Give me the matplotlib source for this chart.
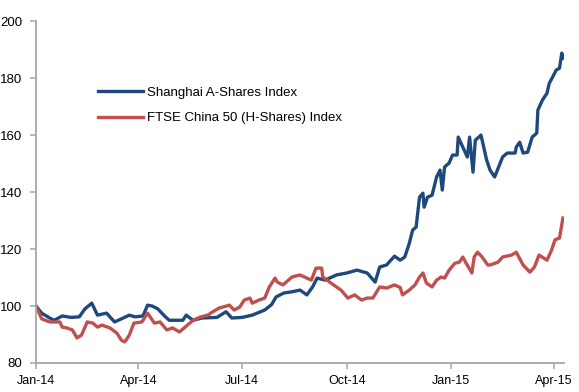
import matplotlib
matplotlib.use("Agg")
import matplotlib.pyplot as plt
import pandas as pd

plt.rcParams["font.family"] = ["Liberation Sans", "DejaVu Sans"]

# Shanghai A-Shares Index (rebased, Jan-14 = 100)
sh_dates = [
    "2014-01-01", "2014-01-06", "2014-01-13", "2014-01-17", "2014-01-24", "2014-02-01",
    "2014-02-08", "2014-02-13", "2014-02-19", "2014-02-24", "2014-03-04", "2014-03-11",
    "2014-03-17", "2014-03-24", "2014-03-29", "2014-04-05", "2014-04-09", "2014-04-13",
    "2014-04-18", "2014-04-24", "2014-04-28", "2014-05-10", "2014-05-13", "2014-05-19",
    "2014-05-27", "2014-06-09", "2014-06-17", "2014-06-22", "2014-07-01", "2014-07-10",
    "2014-07-21", "2014-07-27", "2014-07-31", "2014-08-07", "2014-08-14", "2014-08-21",
    "2014-08-27", "2014-09-01", "2014-09-05", "2014-09-12", "2014-09-22", "2014-10-01",
    "2014-10-10", "2014-10-19", "2014-10-26", "2014-10-30", "2014-11-05", "2014-11-12",
    "2014-11-17", "2014-11-21", "2014-11-25", "2014-11-28", "2014-12-01", "2014-12-04",
    "2014-12-07", "2014-12-08", "2014-12-11", "2014-12-15", "2014-12-19", "2014-12-22",
    "2014-12-24", "2014-12-26", "2014-12-30", "2015-01-02", "2015-01-06", "2015-01-07",
    "2015-01-11", "2015-01-15", "2015-01-17", "2015-01-20", "2015-01-22", "2015-01-27",
    "2015-02-01", "2015-02-04", "2015-02-08", "2015-02-15", "2015-02-19", "2015-02-26",
    "2015-02-27", "2015-03-02", "2015-03-05", "2015-03-09", "2015-03-13", "2015-03-17",
    "2015-03-18", "2015-03-22", "2015-03-26", "2015-03-28", "2015-03-31", "2015-04-03",
    "2015-04-06", "2015-04-08", "2015-04-09",
]
sh_values = [
    100, 97.5, 95.8, 95, 96.5, 96,
    96.2, 99, 101, 96.8, 97.5, 94.4,
    95.5, 96.8, 96.2, 96.5, 100.3, 100,
    99, 96.5, 95, 95, 96.8, 95,
    95.8, 96, 98, 95.8, 96, 96.8,
    98.6, 100.5, 103.2, 104.6, 105, 105.6,
    103.9, 106.7, 109.8, 109.1, 110.9, 111.6,
    112.6, 111.6, 108.4, 113.7, 114.4, 117.5,
    116.1, 117.2, 122, 126.7, 127.7, 138.2,
    139.6, 134.7, 138.2, 138.9, 145.3, 147.7,
    140.7, 148.8, 150.2, 153, 153, 159.3,
    155.8, 152.3, 159.3, 147, 158.2, 160,
    151.2, 147.7, 145.3, 152.3, 153.7, 153.7,
    155.8, 157.5, 153.7, 154, 159.3, 160.7,
    168.8, 172.3, 174.7, 178.2, 180.4, 182.8,
    183.5, 188.8, 187,
]

# FTSE China 50 (H-Shares) Index (rebased, Jan-14 = 100)
h_dates = [
    "2014-01-01", "2014-01-06", "2014-01-13", "2014-01-22", "2014-01-24", "2014-01-28",
    "2014-02-02", "2014-02-06", "2014-02-10", "2014-02-15", "2014-02-20", "2014-02-24",
    "2014-02-28", "2014-03-07", "2014-03-13", "2014-03-17", "2014-03-20", "2014-03-24",
    "2014-03-28", "2014-04-04", "2014-04-09", "2014-04-15", "2014-04-20", "2014-04-26",
    "2014-05-01", "2014-05-07", "2014-05-12", "2014-05-19", "2014-05-25", "2014-06-01",
    "2014-06-05", "2014-06-11", "2014-06-20", "2014-06-24", "2014-06-29", "2014-07-03",
    "2014-07-08", "2014-07-10", "2014-07-16", "2014-07-21", "2014-07-25", "2014-07-30",
    "2014-08-01", "2014-08-06", "2014-08-14", "2014-08-21", "2014-08-27", "2014-08-31",
    "2014-09-04", "2014-09-09", "2014-09-10", "2014-09-16", "2014-09-22", "2014-09-26",
    "2014-10-02", "2014-10-08", "2014-10-14", "2014-10-19", "2014-10-24", "2014-10-30",
    "2014-11-05", "2014-11-12", "2014-11-17", "2014-11-19", "2014-11-25", "2014-11-30",
    "2014-12-04", "2014-12-07", "2014-12-10", "2014-12-15", "2014-12-19", "2014-12-23",
    "2014-12-26", "2014-12-30", "2015-01-04", "2015-01-08", "2015-01-11", "2015-01-14",
    "2015-01-19", "2015-01-21", "2015-01-24", "2015-01-28", "2015-02-02", "2015-02-04",
    "2015-02-11", "2015-02-15", "2015-02-23", "2015-02-27", "2015-03-05", "2015-03-11",
    "2015-03-15", "2015-03-19", "2015-03-26", "2015-03-30", "2015-04-02", "2015-04-06",
    "2015-04-09",
]
h_values = [
    100, 95.5, 94.4, 94.4, 92.6, 92.3,
    91.6, 88.8, 89.8, 94.4, 94, 92.6,
    93.3, 92.3, 90.5, 88, 87.4, 89.8,
    94, 94.4, 97.5, 94, 94.4, 91.6,
    92.3, 90.9, 92.6, 95, 96.1, 96.8,
    97.9, 99.3, 100.3, 98.6, 99.6, 102.1,
    102.8, 101, 102.1, 102.8, 106.7, 109.8,
    108.4, 107.4, 110.2, 110.9, 109.8, 109.1,
    113.3, 113.3, 110.2, 108.4, 106.7, 105.6,
    102.8, 103.9, 102.1, 102.8, 102.8, 106.7,
    106.3, 107.4, 106.5, 103.9, 105.6, 107.4,
    110.2, 111.6, 108.1, 106.7, 109.1, 110.2,
    109.8, 112.6, 115, 115.4, 117.2, 115,
    111.6, 117.2, 118.9, 117.2, 114.4, 114.4,
    115.4, 117.2, 117.9, 118.9, 114.4, 111.9,
    113.7, 117.9, 116.1, 119.6, 123.2, 123.9,
    130.9,
]

series_labels = ["Shanghai A-Shares Index", "FTSE China 50 (H-Shares) Index"]
tick_dates = ["2014-01-01", "2014-04-01", "2014-07-01", "2014-10-01", "2015-01-01", "2015-04-01"]
tick_labels = ["Jan-14", "Apr-14", "Jul-14", "Oct-14", "Jan-15", "Apr-15"]

fig = plt.figure(figsize=(5.79, 3.92), dpi=100)
ax = fig.add_axes([0.0622, 0.074, 0.912, 0.872])

ax.plot(pd.to_datetime(sh_dates), sh_values, color="#1F497D", lw=2.4,
        label=series_labels[0], solid_joinstyle="round")
ax.plot(pd.to_datetime(h_dates), h_values, color="#C0504D", lw=2.4,
        label=series_labels[1], solid_joinstyle="round")

ax.set_xlim(pd.Timestamp("2014-01-01"), pd.Timestamp("2015-04-10"))
ax.set_ylim(80, 200)
ax.set_yticks(range(80, 201, 20))
ax.set_xticks(pd.to_datetime(tick_dates))
ax.set_xticklabels(tick_labels)

for side in ["top", "right"]:
    ax.spines[side].set_visible(False)
for side in ["left", "bottom"]:
    ax.spines[side].set_color("#A6A6A6")
    ax.spines[side].set_linewidth(1.3)

ax.tick_params(axis="both", colors="#A6A6A6", length=4, width=1.1, labelcolor="black")
ax.tick_params(axis="y", labelsize=9.5, pad=6)
ax.tick_params(axis="x", labelsize=9, pad=5)

ax.legend(loc="upper left", bbox_to_anchor=(0.117, 0.808), frameon=False,
          fontsize=9.5, handlelength=3.4, handletextpad=0.3, labelspacing=1.0,
          borderpad=0, borderaxespad=0)

fig.savefig("out.png", dpi=100)
